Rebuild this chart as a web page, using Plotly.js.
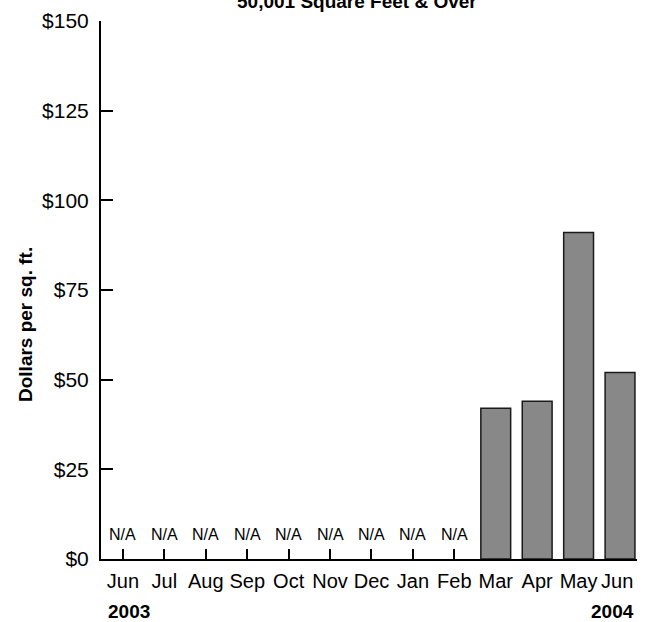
<!DOCTYPE html>
<html>
<head>
<meta charset="utf-8">
<script src="https://cdn.plot.ly/plotly-3.0.1.min.js"></script>
<style>
html, body { margin: 0; padding: 0; background: #ffffff; }
#chart { width: 648px; height: 622px; }
</style>
</head>
<body>
<div id="chart"></div>
<script>
const months = ["Jun", "Jul", "Aug", "Sep", "Oct", "Nov", "Dec", "Jan", "Feb", "Mar", "Apr", "May", "Jun "];
const values = [null, null, null, null, null, null, null, null, null, 42, 44, 91, 52];
const naLabel = "N/A";
const yearLabels = ["2003", "2004"];
const chartTitle = "50,001 Square Feet & Over";
const yTitle = "Dollars per sq. ft.";

const sans = "'Liberation Sans', Arial, Helvetica, sans-serif";

const plotTop = 21, plotBottom = 559, plotH = plotBottom - plotTop;
const plotLeft = 101, plotRight = 637, plotW = plotRight - plotLeft;
const py = (p) => (plotBottom - p) / plotH;
const px = (p) => (p - plotLeft) / plotW;

const annotations = [];
values.forEach((v, i) => {
  if (v === null) {
    annotations.push({
      x: months[i], xref: "x", y: py(534), yref: "paper",
      text: naLabel, showarrow: false, xanchor: "center", yanchor: "middle",
      font: { family: sans, size: 16, color: "#000" }
    });
  }
});
annotations.push({
  x: px(128.5), xref: "paper", y: py(611), yref: "paper",
  text: "<b>" + yearLabels[0] + "</b>", showarrow: false, xanchor: "center", yanchor: "middle",
  font: { family: sans, size: 19, color: "#000" }
});
annotations.push({
  x: px(612), xref: "paper", y: py(611), yref: "paper",
  text: "<b>" + yearLabels[1] + "</b>", showarrow: false, xanchor: "center", yanchor: "middle",
  font: { family: sans, size: 19, color: "#000" }
});
annotations.push({
  x: px(357), xref: "paper", y: py(1.5), yref: "paper",
  text: "<b>" + chartTitle + "</b>", showarrow: false, xanchor: "center", yanchor: "middle",
  font: { family: sans, size: 19, color: "#000" }
});
annotations.push({
  x: px(25), xref: "paper", y: py(325), yref: "paper",
  text: "<b>" + yTitle + "</b>", showarrow: false, textangle: -90,
  xanchor: "center", yanchor: "middle",
  font: { family: sans, size: 19, color: "#000" }
});

const trace = {
  type: "bar",
  x: months,
  y: values,
  marker: { color: "#888888", line: { color: "#1a1a1a", width: 1.5 } },
  hoverinfo: "skip"
};

const layout = {
  width: 648, height: 622,
  margin: { l: 101, r: 11, t: 21, b: 63, pad: 0 },
  paper_bgcolor: "#ffffff", plot_bgcolor: "#ffffff",
  showlegend: false,
  bargap: 0.28,
  xaxis: {
    type: "category",
    range: [-0.53, 12.41],
    showgrid: false, zeroline: false,
    showline: true, linecolor: "#000", linewidth: 2,
    ticks: "inside", ticklen: 10, tickwidth: 2, tickcolor: "#000",
    layer: "below traces",
    ticklabelstandoff: 3,
    tickfont: { family: sans, size: 20, color: "#000" },
    fixedrange: true
  },
  yaxis: {
    range: [0, 150],
    dtick: 25, tick0: 0,
    tickprefix: "$",
    showgrid: false, zeroline: false,
    showline: true, linecolor: "#000", linewidth: 2,
    ticks: "inside", ticklen: 12, tickwidth: 2, tickcolor: "#000",
    ticklabelstandoff: 6,
    tickfont: { family: sans, size: 21, color: "#000" },
    fixedrange: true
  },
  annotations: annotations
};

Plotly.newPlot("chart", [trace], layout, { displayModeBar: false, staticPlot: true });
</script>
</body>
</html>
